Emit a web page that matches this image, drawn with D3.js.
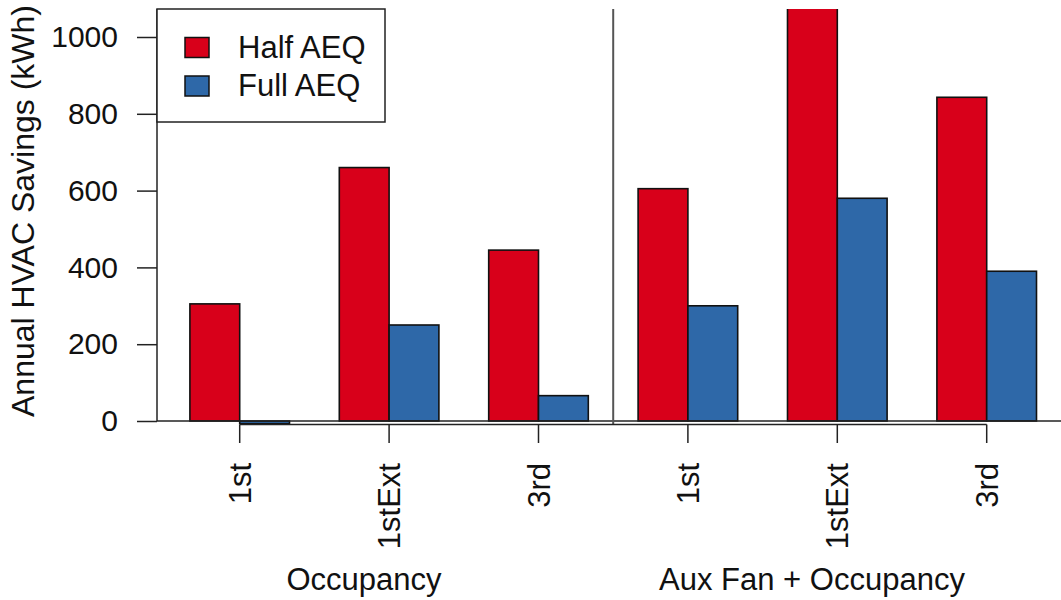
<!DOCTYPE html>
<html>
<head>
<meta charset="utf-8">
<script src="https://cdn.jsdelivr.net/npm/d3@7"></script>
<style>
  html, body { margin: 0; padding: 0; background: #fff; }
  svg { display: block; font-family: "Liberation Sans", Arial, sans-serif; }
</style>
</head>
<body>
<svg id="chart" width="1061" height="600"></svg>
<script>
// Categories: building scenario within each control strategy
const categories = ["1st", "1stExt", "3rd", "1st ", "1stExt ", "3rd "];
const tickLabels = ["1st", "1stExt", "3rd", "1st", "1stExt", "3rd"];
const groupLabels = ["Occupancy", "Aux Fan + Occupancy"];
const seriesNames = ["Half AEQ", "Full AEQ"];
// Annual HVAC savings (kWh)
const halfAEQ = [305, 660, 445, 605, 1130, 843];
const fullAEQ = [-7, 250, 66, 300, 580, 390];
const yTicks = [0, 200, 400, 600, 800, 1000];

const colors = { "Half AEQ": "#d8001a", "Full AEQ": "#2e68a8" };

const svg = d3.select("#chart");
const plotTop = 9, plotLeft = 157, plotRight = 1061;

const y = d3.scaleLinear().domain([0, 1000]).range([421, 37]);
const x = d3.scaleBand().domain(categories).range([165, 1061.4])
  .paddingInner(1 / 3).paddingOuter(1 / 6);
const xs = d3.scaleBand().domain(seriesNames).range([0, x.bandwidth()]);

const rows = categories.map((c, i) => ({ cat: c, values: [
  { key: "Half AEQ", v: halfAEQ[i] },
  { key: "Full AEQ", v: fullAEQ[i] }
]}));

svg.append("defs").append("clipPath").attr("id", "plot-clip")
  .append("rect").attr("x", plotLeft).attr("y", plotTop)
  .attr("width", plotRight - plotLeft).attr("height", 600 - plotTop);

// Bars
const bars = svg.append("g").attr("clip-path", "url(#plot-clip)");
bars.selectAll("g").data(rows).join("g")
  .attr("transform", d => `translate(${x(d.cat)},0)`)
  .selectAll("rect").data(d => d.values).join("rect")
  .attr("x", d => xs(d.key))
  .attr("width", xs.bandwidth())
  .attr("y", d => y(Math.max(0, d.v)))
  .attr("height", d => Math.abs(y(d.v) - y(0)))
  .attr("fill", d => colors[d.key])
  .attr("stroke", "#111")
  .attr("stroke-width", 1.6);

// Zero baseline across the plot
svg.append("line")
  .attr("x1", plotLeft).attr("x2", plotRight)
  .attr("y1", y(0)).attr("y2", y(0))
  .attr("stroke", "#222").attr("stroke-width", 1.5);

// Divider between the two strategies
const divX = (x(categories[2]) + x.bandwidth() + x(categories[3])) / 2;
svg.append("line")
  .attr("x1", divX).attr("x2", divX)
  .attr("y1", plotTop).attr("y2", 424)
  .attr("stroke", "#555").attr("stroke-width", 2);

// Y axis
const yAxis = svg.append("g").attr("transform", `translate(${plotLeft},0)`)
  .call(d3.axisLeft(y).tickValues(yTicks).tickFormat(d3.format("d"))
    .tickSize(20).tickPadding(19));
yAxis.select(".domain").remove();
yAxis.append("line").attr("x1", 0).attr("x2", 0)
  .attr("y1", plotTop).attr("y2", y(0))
  .attr("stroke", "#222").attr("stroke-width", 1.5);
yAxis.selectAll(".tick line").attr("stroke", "#222").attr("stroke-width", 1.5);
yAxis.selectAll(".tick text")
  .attr("font-size", 30).attr("fill", "#111")
  .attr("font-family", "Liberation Sans, Arial, sans-serif");

svg.append("text")
  .attr("transform", `translate(34,211) rotate(-90)`)
  .attr("text-anchor", "middle")
  .attr("font-size", 32).attr("fill", "#111")
  .text("Annual HVAC Savings (kWh)");

// X axis with rotated scenario labels
const centers = categories.map(c => x(c) + x.bandwidth() / 2);
const xAxis = svg.append("g");
xAxis.append("line")
  .attr("x1", centers[0]).attr("x2", centers[centers.length - 1])
  .attr("y1", 424.5).attr("y2", 424.5)
  .attr("stroke", "#222").attr("stroke-width", 1.5);
xAxis.selectAll("line.tick").data(categories).join("line")
  .attr("class", "tick")
  .attr("x1", d => x(d) + x.bandwidth() / 2).attr("x2", d => x(d) + x.bandwidth() / 2)
  .attr("y1", 424.5).attr("y2", 443)
  .attr("stroke", "#222").attr("stroke-width", 1.5);
xAxis.selectAll("text").data(categories).join("text")
  .attr("transform", (d) => `translate(${x(d) + x.bandwidth() / 2 + 11},463) rotate(-90)`)
  .attr("text-anchor", "end")
  .attr("font-size", 31).attr("fill", "#111")
  .text((d, i) => tickLabels[i]);

// Strategy labels
const groupCenters = [364, 812];
svg.selectAll("text.group").data(groupLabels).join("text")
  .attr("class", "group")
  .attr("x", (d, i) => groupCenters[i]).attr("y", 590)
  .attr("text-anchor", "middle")
  .attr("font-size", 31).attr("fill", "#111")
  .text(d => d);

// Legend
const legend = svg.append("g");
legend.append("rect")
  .attr("x", plotLeft).attr("y", plotTop)
  .attr("width", 385 - plotLeft).attr("height", 122 - plotTop)
  .attr("fill", "#fff").attr("stroke", "#222").attr("stroke-width", 1.5);
const legendRows = legend.selectAll("g.item").data(seriesNames).join("g")
  .attr("class", "item")
  .attr("transform", (d, i) => `translate(0,${i * 38.5})`);
legendRows.append("rect")
  .attr("x", 185).attr("y", 37.5).attr("width", 24).attr("height", 20)
  .attr("fill", d => colors[d]).attr("stroke", "#111").attr("stroke-width", 1.5);
legendRows.append("text")
  .attr("x", 238).attr("y", 57.5)
  .attr("font-size", 31).attr("fill", "#111")
  .text(d => d);
</script>
</body>
</html>
